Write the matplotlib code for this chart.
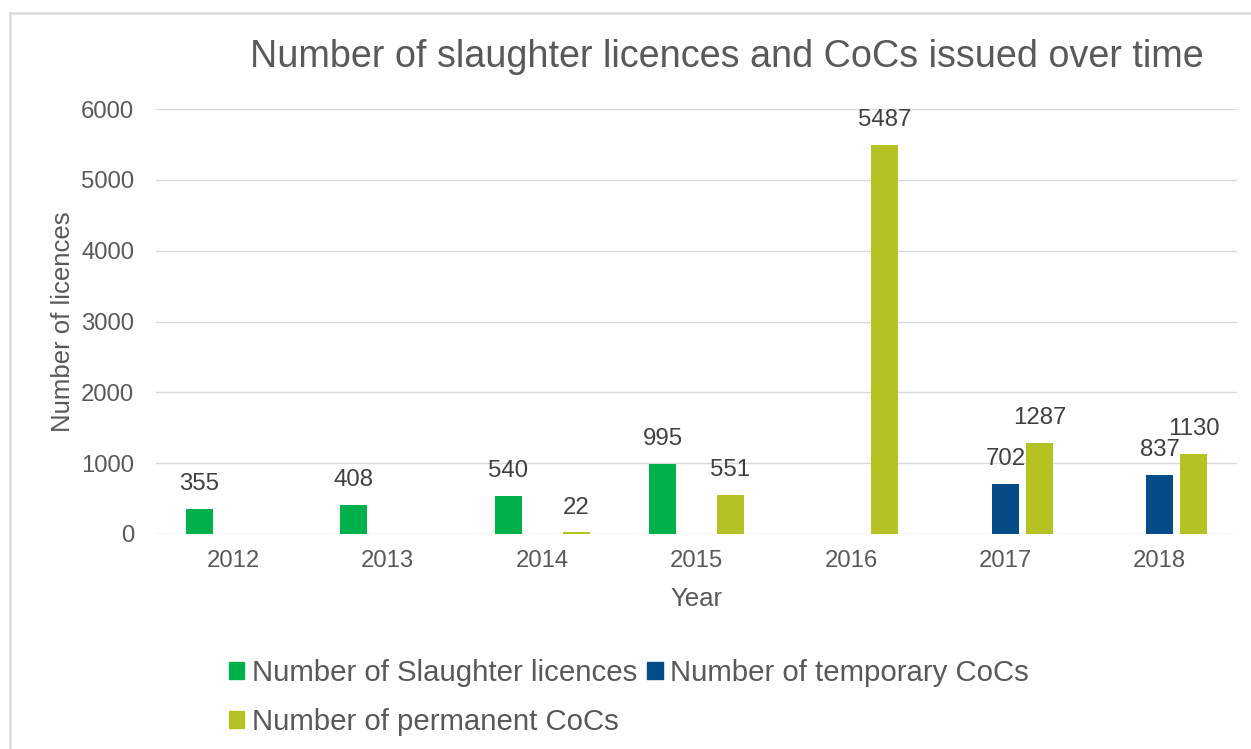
import numpy as np
import matplotlib
matplotlib.use("Agg")
import matplotlib.pyplot as plt
from matplotlib.patches import Patch
from matplotlib.lines import Line2D

plt.rcParams['font.family'] = ['Liberation Sans', 'DejaVu Sans']

# === datos ===
years = ["2012", "2013", "2014", "2015", "2016", "2017", "2018"]
slaughter = [355, 408, 540, 995, None, None, None]
temporary = [None, None, None, None, None, 702, 837]
permanent = [None, None, 22, 551, 5487, 1287, 1130]

series_names = ["Number of Slaughter licences", "Number of temporary CoCs",
                "Number of permanent CoCs"]
colors = ["#00B04A", "#044B88", "#B4C224"]

TXT = "#595959"
GRID = "#D9D9D9"

W, H = 1251, 749
fig = plt.figure(figsize=(W / 100, H / 100), dpi=100)
ax = fig.add_axes([156 / W, 1 - 534 / H, (1237 - 156) / W, (534 - 109) / H])

x = np.arange(len(years))
width = 0.175
step = 0.22

for k, (vals, col) in enumerate(zip([slaughter, temporary, permanent], colors)):
    h = np.array([np.nan if v is None else v for v in vals], dtype=float)
    bars = ax.bar(x + (k - 1) * step, np.nan_to_num(h), width, color=col, zorder=3)
    labels = ["" if v is None else str(v) for v in vals]
    ax.bar_label(bars, labels=labels, padding=10, fontsize=17.3, color="#404040")

ax.set_xlim(-0.5, len(years) - 0.5)
ax.set_ylim(0, 6000)
ax.set_yticks(range(0, 6001, 1000))
ax.set_xticks(x)
ax.set_xticklabels(years)
ax.tick_params(axis="both", length=0, labelsize=17.2, colors=TXT)
ax.tick_params(axis="x", pad=11.5)
ax.tick_params(axis="y", pad=15.8)
ax.grid(axis="y", color=GRID, linewidth=1.0, zorder=0)
for s in ax.spines.values():
    s.set_visible(False)

ax.set_xlabel("Year", fontsize=18.5, color=TXT)
ax.xaxis.set_label_coords(0.5, -0.125)
ax.set_ylabel("Number of licences", fontsize=18.5, color=TXT)
ax.yaxis.set_label_coords(-0.0745, 0.5)

fig.text(727 / W, 1 - 67 / H, "Number of slaughter licences and CoCs issued over time",
         fontsize=27.2, color=TXT, ha="center", va="baseline")

handles = [Patch(color=c) for c in colors]
order = [0, 2, 1]
fig.legend([handles[i] for i in order], [series_names[i] for i in order],
           loc="upper left", bbox_to_anchor=(229 / W, 1 - 659 / H), ncol=2,
           frameon=False, fontsize=21.2, handlelength=0.52, handleheight=0.5,
           handletextpad=0.25, columnspacing=0.35, labelspacing=0.72,
           borderpad=0, borderaxespad=0, labelcolor=TXT)

# marco del grafico
fig.add_artist(Line2D([9.5 / W, 9.5 / W], [0, 1 - 13 / H], color=GRID, lw=1.8))
fig.add_artist(Line2D([9.5 / W, 1], [1 - 13 / H, 1 - 13 / H], color=GRID, lw=1.8))

fig.savefig("out.png", dpi=100)
